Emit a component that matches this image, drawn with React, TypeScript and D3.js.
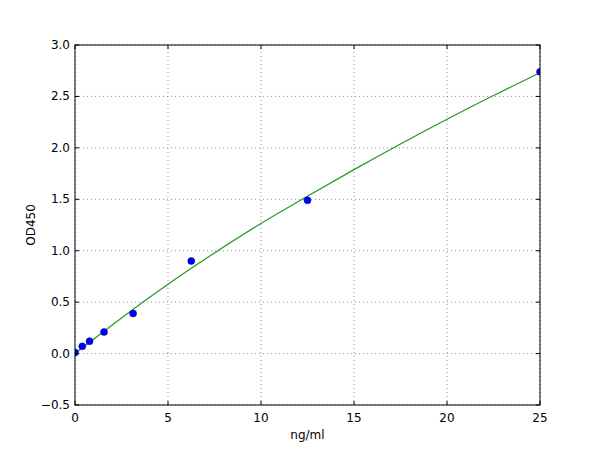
import React from 'react';
import * as d3 from 'd3';

// standards (concentration vs OD)
const concentrations = [0, 0.39, 0.78, 1.56, 3.125, 6.25, 12.5, 25];
const odValues = [0.01, 0.07, 0.12, 0.21, 0.39, 0.9, 1.49, 2.74];

// fitted curve
const curveX = [0, 2.5, 5, 7.5, 10, 12.5, 15, 17.5, 20, 22.5, 25];
const curveY = [0.0, 0.35, 0.68, 0.98, 1.27, 1.53, 1.79, 2.04, 2.28, 2.51, 2.73];

const xTicks = [0, 5, 10, 15, 20, 25];
const yTicks = [-0.5, 0, 0.5, 1, 1.5, 2, 2.5, 3];

const width = 600;
const height = 450;
const margin = { top: 45, right: 60, bottom: 45, left: 75 };

const App: React.FC = () => {
  const x = d3.scaleLinear().domain([0, 25]).range([margin.left, width - margin.right]);
  const y = d3.scaleLinear().domain([-0.5, 3]).range([height - margin.bottom, margin.top]);

  const line = d3.line<number>()
    .x((_, i) => x(curveX[i]))
    .y(d => y(d))
    .curve(d3.curveBasis);

  const x0 = margin.left;
  const x1 = width - margin.right;
  const y0 = height - margin.bottom;
  const y1 = margin.top;
  const tick = 4;
  const font = 'DejaVu Sans, sans-serif';

  return (
    <svg width={width} height={height} style={{ position: 'absolute', left: 0, top: 0, background: '#fff' }}>
      <defs>
        <clipPath id="plot">
          <rect x={x0} y={y1} width={x1 - x0} height={y0 - y1} />
        </clipPath>
      </defs>
      <rect x={0} y={0} width={width} height={height} fill="#fff" />

      {/* grid */}
      <g stroke="#666" strokeWidth={0.7} strokeDasharray="1,3">
        {xTicks.map(t => (
          <line key={'gx' + t} x1={x(t)} x2={x(t)} y1={y0} y2={y1} />
        ))}
        {yTicks.map(t => (
          <line key={'gy' + t} x1={x0} x2={x1} y1={y(t)} y2={y(t)} />
        ))}
      </g>

      <g clipPath="url(#plot)">
        <path d={line(curveY) || ''} fill="none" stroke="#229922" strokeWidth={1.2} />
        {concentrations.map((c, i) => (
          <circle key={i} cx={x(c)} cy={y(odValues[i])} r={3.5} fill="#0000ff" stroke="#000080" strokeWidth={0.5} />
        ))}
      </g>

      {/* ticks, inward on all sides */}
      <g stroke="#000" strokeWidth={1}>
        {xTicks.map(t => (
          <g key={'tx' + t}>
            <line x1={x(t)} x2={x(t)} y1={y0} y2={y0 - tick} />
            <line x1={x(t)} x2={x(t)} y1={y1} y2={y1 + tick} />
          </g>
        ))}
        {yTicks.map(t => (
          <g key={'ty' + t}>
            <line x1={x0} x2={x0 + tick} y1={y(t)} y2={y(t)} />
            <line x1={x1} x2={x1 - tick} y1={y(t)} y2={y(t)} />
          </g>
        ))}
      </g>

      <rect x={x0} y={y1} width={x1 - x0} height={y0 - y1} fill="none" stroke="#000" strokeWidth={1} />

      <g fontFamily={font} fontSize={12} fill="#000">
        {xTicks.map(t => (
          <text key={'lx' + t} x={x(t)} y={y0 + 17} textAnchor="middle">{t}</text>
        ))}
        {yTicks.map(t => (
          <text key={'ly' + t} x={x0 - 5} y={y(t) + 4} textAnchor="end">
            {t < 0 ? '\u2212' + Math.abs(t).toFixed(1) : t.toFixed(1)}
          </text>
        ))}
        <text x={(x0 + x1) / 2} y={y0 + 34} textAnchor="middle">ng/ml</text>
        <text transform={`translate(35,${(y0 + y1) / 2}) rotate(-90)`} textAnchor="middle">OD450</text>
      </g>
    </svg>
  );
};

export default App;
